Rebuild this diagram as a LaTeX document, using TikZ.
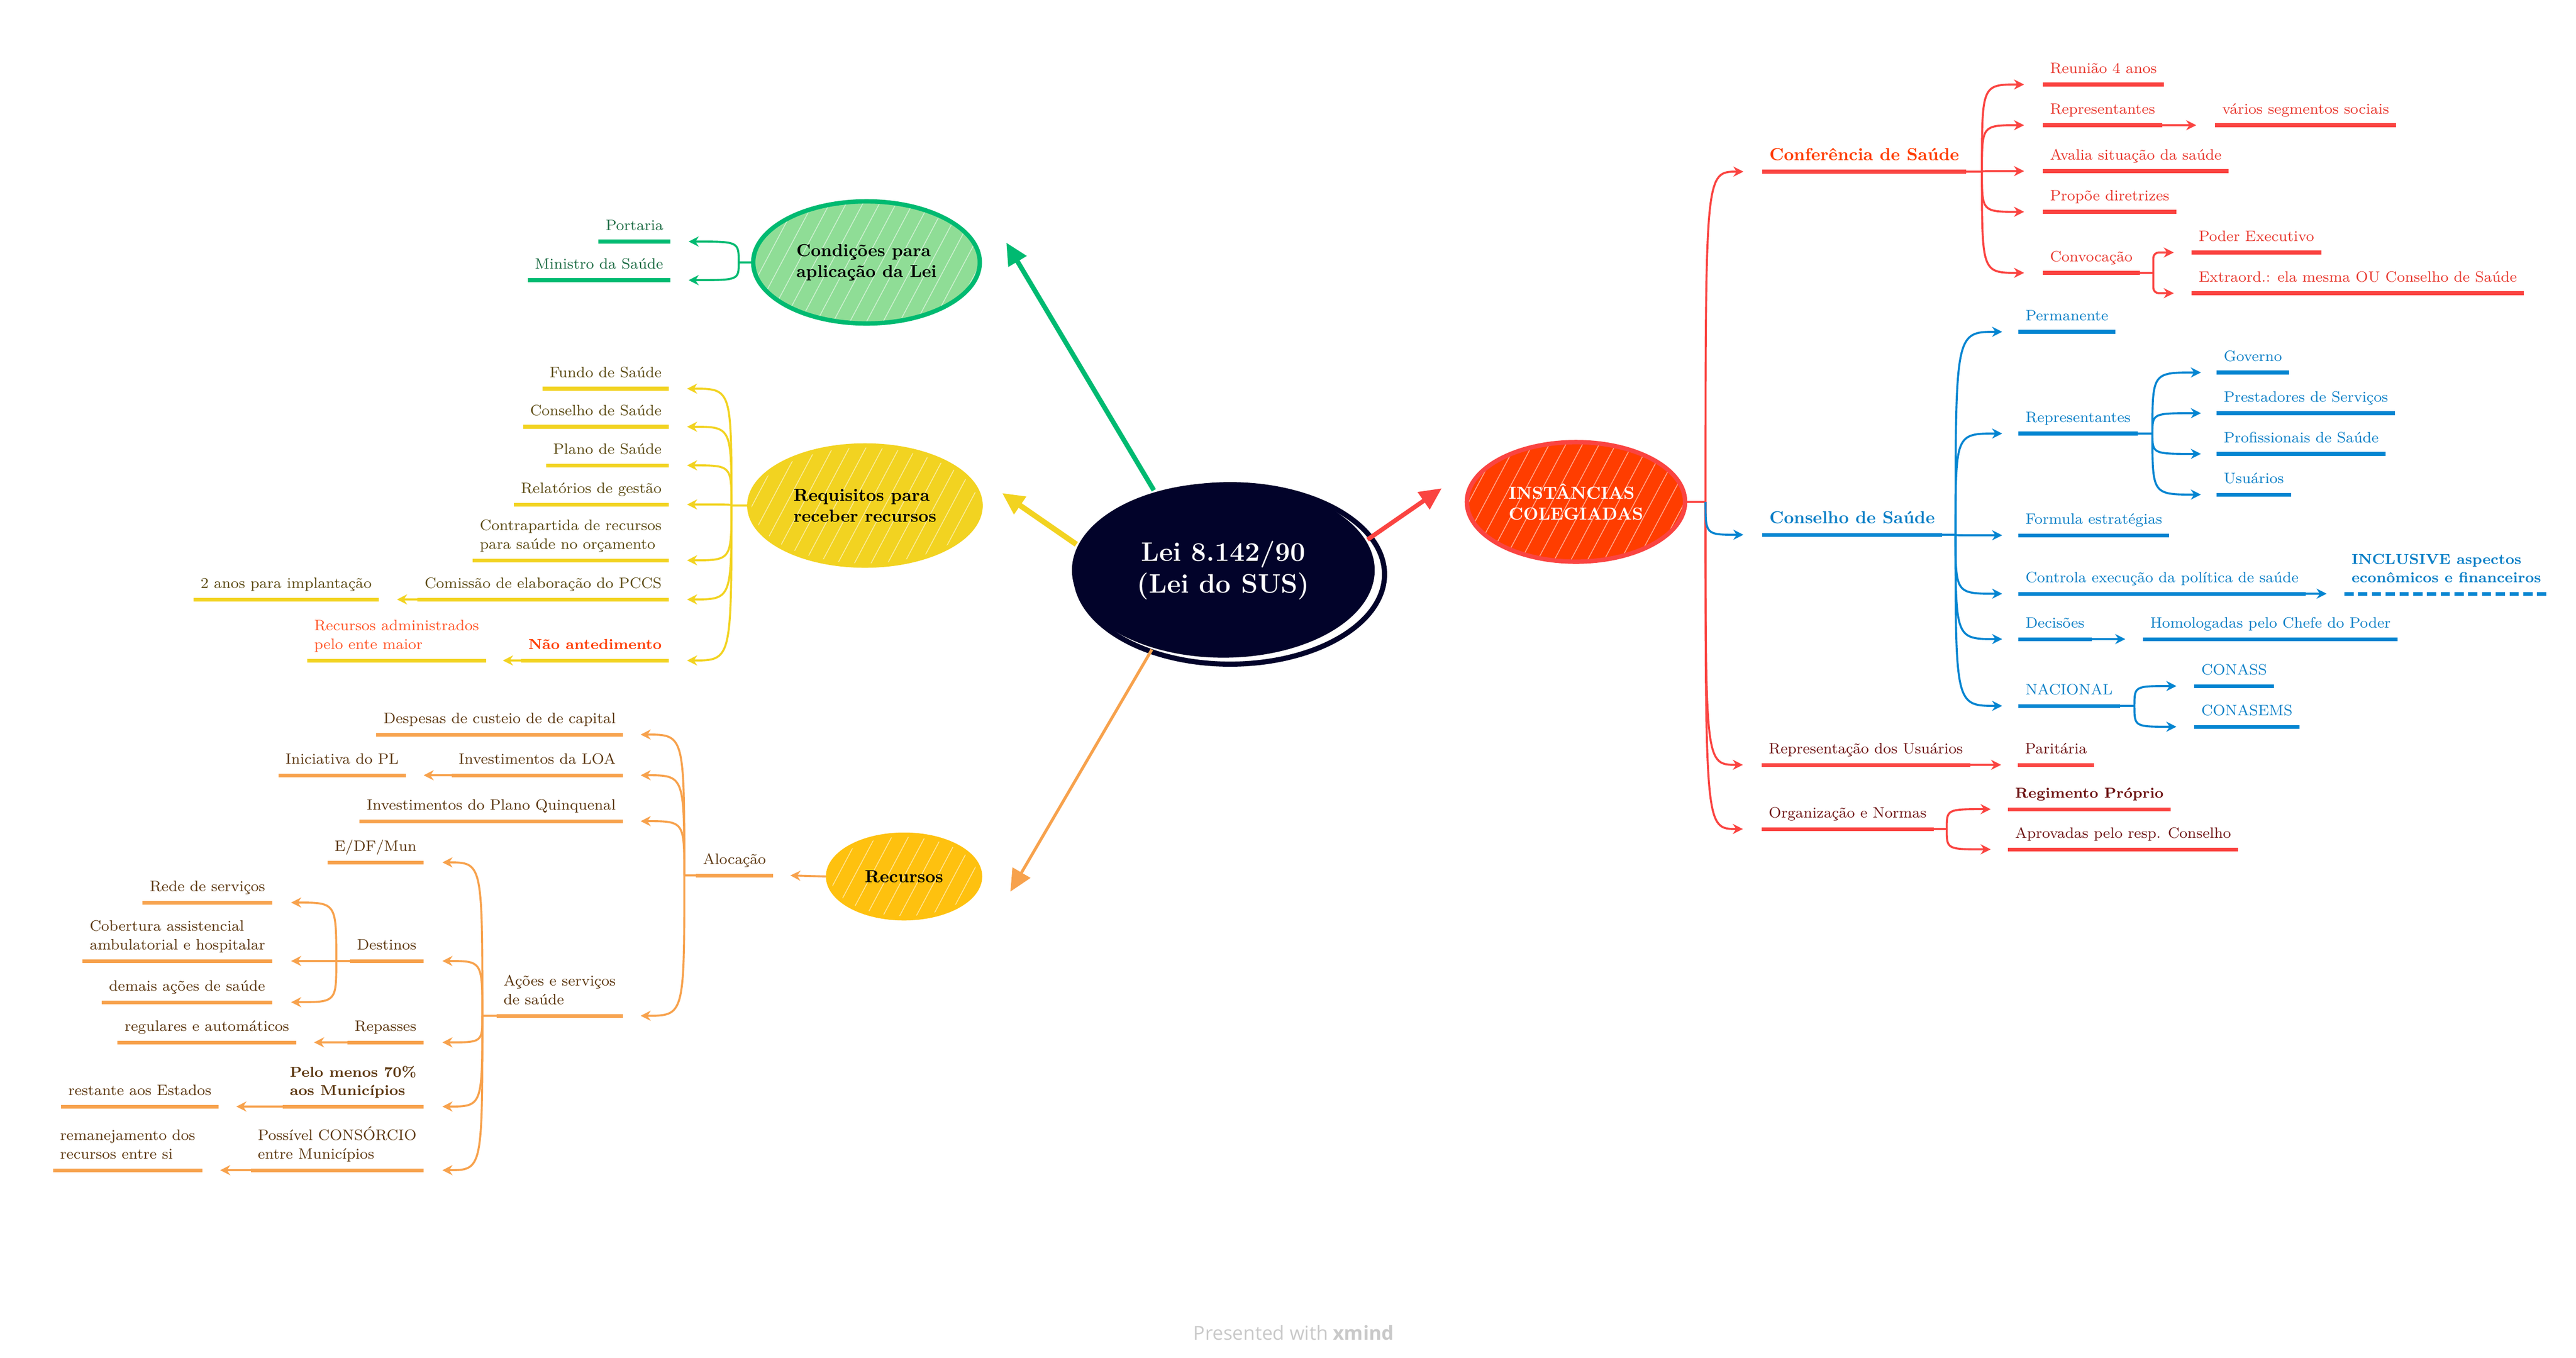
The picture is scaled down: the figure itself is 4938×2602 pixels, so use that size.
\documentclass[tikz,border=0pt]{standalone}
\usepackage{fontspec}
\newfontfamily\wmfont{Open Sans}
\usetikzlibrary{shapes.geometric,arrows.meta,patterns.meta,positioning}
\definecolor{navy}{HTML}{02032A}
\definecolor{rdline}{HTML}{FA4441}
\definecolor{rdtext}{HTML}{E8382E}
\definecolor{rdfill}{HTML}{FF3D00}
\definecolor{rdhead}{HTML}{FF3D00}
\definecolor{mrline}{HTML}{FA4441}
\definecolor{mrtext}{HTML}{6E1414}
\definecolor{blline}{HTML}{0385D1}
\definecolor{bltext}{HTML}{0A7FC6}
\definecolor{grnline}{HTML}{00BA71}
\definecolor{grnfill}{HTML}{8FDD96}
\definecolor{grntext}{HTML}{1B6B43}
\definecolor{ylwline}{HTML}{F2D321}
\definecolor{ylwfill}{HTML}{F2D321}
\definecolor{ylwtext}{HTML}{5B4A12}
\definecolor{orgline}{HTML}{F7A24D}
\definecolor{orgfill}{HTML}{FEC10F}
\definecolor{orgtext}{HTML}{5B360E}
\definecolor{naotext}{HTML}{FF3D00}
\definecolor{admtext}{HTML}{FF5527}
\definecolor{wmgray}{HTML}{C9C9C9}
\tikzset{
  mainnode/.style={ellipse, line width=2.4pt, inner sep=0pt, align=left, font=\fontsize{9.5}{11.5}\selectfont\bfseries},
  hatch/.style={preaction={fill=#1}, pattern={Lines[angle=62,distance=8pt,line width=0.45pt]}, pattern color=white!55!#1},
  topic/.style={inner xsep=0.13cm, inner ysep=0.12cm, text depth=0.25em, align=left, font=\fontsize{8.2}{10.2}\selectfont, text=#1text,
    append after command={(\tikzlastnode.south west) edge[line width=2pt, draw=#1line] (\tikzlastnode.south east)}},
  dashtopic/.style={inner xsep=0.13cm, inner ysep=0.12cm, text depth=0.25em, align=left, font=\fontsize{7.9}{9.9}\selectfont\bfseries, text=#1text,
    append after command={(\tikzlastnode.south west) edge[line width=2pt, dash pattern=on 5pt off 2.5pt, draw=#1line] (\tikzlastnode.south east)}},
  headtopic/.style={font=\fontsize{9.5}{11.5}\selectfont\bfseries},
  boldtopic/.style={font=\fontsize{7.9}{9.9}\selectfont\bfseries},
  link/.style={line width=1.1pt, -{Stealth[length=5.5pt,width=5.5pt]}},
  mainarrow/.style={-{Triangle[length=12pt,width=11pt]}}
}
\begin{document}
\begin{tikzpicture}[x=0.01cm, y=-0.01cm]
\useasboundingbox (0,0) rectangle (4938,2602);
\node[mainnode, fill=navy, text=white, align=center, minimum width=5.8cm, minimum height=3.35cm, font=\fontsize{14.6}{17.5}\selectfont\bfseries] (lei) at (2345,1093) {Lei 8.142/90\\(Lei do SUS)};
\draw[navy, line width=2.8pt] (2358,1101) ellipse [x radius=296, y radius=172];
\node[mainnode, hatch=grnfill, draw=grnline, minimum width=4.34cm, minimum height=2.34cm] (cond) at (1661,503) {Condições para\\aplicação da Lei};
\node[mainnode, hatch=ylwfill, draw=ylwline, minimum width=4.43cm, minimum height=2.3cm] (requis) at (1658,969) {Requisitos para\\receber recursos};
\node[mainnode, hatch=orgfill, draw=orgfill, minimum width=2.91cm, minimum height=1.6cm] (recursos) at (1733,1680) {Recursos};
\node[mainnode, hatch=rdfill, draw=rdline, text=white, minimum width=4.18cm, minimum height=2.29cm] (inst) at (3021,962) {INSTÂNCIAS\\COLEGIADAS};
\draw[mainarrow, grnline, line width=2.6pt] (lei.131) -- ([shift={(0.5cm,0.38cm)}]cond.east);
\draw[mainarrow, ylwline, line width=3pt] (lei.170) -- ([shift={(0.37cm,0.24cm)}]requis.east);
\draw[mainarrow, rdline, line width=2.4pt] (lei.12) -- ([shift={(-0.44cm,0.26cm)}]inst.west);
\draw[mainarrow, orgline, line width=1.6pt] (lei.228) -- ([shift={(0.54cm,-0.29cm)}]recursos.east);

\node[topic=grn, anchor=south east] (portaria) at (1285,463) {Portaria};
\node[topic=grn, anchor=south east] (ministro) at (1285,537) {Ministro da Saúde};
\coordinate (fCond) at ([xshift=-0.27cm]cond.west);
\draw[grnline, line width=1.1pt] (cond.west) -- (fCond);
\foreach \c in {portaria,ministro}
\draw[link, grnline] (fCond) .. controls (fCond |- \c.south east) .. ([xshift=0.35cm]\c.south east);

\node[topic=ylw, anchor=south east] (fundo) at (1282,745) {Fundo de Saúde};
\node[topic=ylw, anchor=south east] (conssaude) at (1282,818) {Conselho de Saúde};
\node[topic=ylw, anchor=south east] (plano) at (1282,892) {Plano de Saúde};
\node[topic=ylw, anchor=south east] (relat) at (1282,967) {Relatórios de gestão};
\node[topic=ylw, anchor=south east] (contrap) at (1282,1074) {Contrapartida de recursos\\para saúde no orçamento};
\node[topic=ylw, anchor=south east] (comissao) at (1282,1149) {Comissão de elaboração do PCCS};
\node[topic=ylw, anchor=south east] (doisanos) at (726,1149) {2 anos para implantação};
\node[topic=ylw, boldtopic, anchor=south east, text=naotext] (naoat) at (1282,1266) {Não antedimento};
\node[topic=ylw, anchor=south east, text=admtext] (recadm) at (932,1266) {Recursos administrados\\pelo ente maior};
\coordinate (fRequis) at ([xshift=-0.3cm]requis.west);
\draw[ylwline, line width=1.1pt] (requis.west) -- (fRequis);
\foreach \c in {fundo,conssaude,plano,relat,contrap,comissao,naoat}
\draw[link, ylwline] (fRequis) .. controls (fRequis |- \c.south east) .. ([xshift=0.35cm]\c.south east);
\draw[link, ylwline] (comissao.south west) -- ([xshift=0.35cm]doisanos.south east);
\draw[link, ylwline] (naoat.south west) -- ([xshift=0.32cm]recadm.south east);

\node[topic=org, anchor=south east] (alocacao) at (1482,1678) {Alocação};
\node[topic=org, anchor=south east] (despesas) at (1194,1408) {Despesas de custeio de de capital};
\node[topic=org, anchor=south east] (invloa) at (1194,1486) {Investimentos da LOA};
\node[topic=org, anchor=south east] (inicpl) at (778,1486) {Iniciativa do PL};
\node[topic=org, anchor=south east] (invplano) at (1194,1574) {Investimentos do Plano Quinquenal};
\node[topic=org, anchor=south east] (acoes) at (1194,1947) {Ações e serviços\\de saúde};
\node[topic=org, anchor=south east] (edf) at (812,1653) {E/DF/Mun};
\node[topic=org, anchor=south east] (destinos) at (812,1842) {Destinos};
\node[topic=org, anchor=south east] (rede) at (522,1730) {Rede de serviços};
\node[topic=org, anchor=south east] (cobert) at (522,1842) {Cobertura assistencial\\ambulatorial e hospitalar};
\node[topic=org, anchor=south east] (demais) at (522,1921) {demais ações de saúde};
\node[topic=org, anchor=south east] (repasses) at (812,1998) {Repasses};
\node[topic=org, anchor=south east] (regul) at (568,1998) {regulares e automáticos};
\node[topic=org, boldtopic, anchor=south east] (pelomenos) at (812,2121) {Pelo menos 70\%\\aos Municípios};
\node[topic=org, anchor=south east] (restante) at (419,2121) {restante aos Estados};
\node[topic=org, anchor=south east] (possivel) at (812,2243) {Possível CONSÓRCIO\\entre Municípios};
\node[topic=org, anchor=south east] (remanej) at (388,2243) {remanejamento dos\\recursos entre si};
\draw[link, orgline] (recursos.west) -- ([xshift=0.33cm]alocacao.south east);
\coordinate (fAloc) at ([xshift=-0.22cm]alocacao.south west);
\draw[orgline, line width=1.1pt] (alocacao.south west) -- (fAloc);
\foreach \c in {despesas,invloa,invplano,acoes}
\draw[link, orgline] (fAloc) .. controls (fAloc |- \c.south east) .. ([xshift=0.34cm]\c.south east);
\draw[link, orgline] (invloa.south west) -- ([xshift=0.34cm]inicpl.south east);
\coordinate (fAcoes) at ([xshift=-0.27cm]acoes.south west);
\draw[orgline, line width=1.1pt] (acoes.south west) -- (fAcoes);
\foreach \c in {edf,destinos,repasses,pelomenos,possivel}
\draw[link, orgline] (fAcoes) .. controls (fAcoes |- \c.south east) .. ([xshift=0.36cm]\c.south east);
\coordinate (fDest) at ([xshift=-0.26cm]destinos.south west);
\draw[orgline, line width=1.1pt] (destinos.south west) -- (fDest);
\foreach \c in {rede,cobert,demais}
\draw[link, orgline] (fDest) .. controls (fDest |- \c.south east) .. ([xshift=0.36cm]\c.south east);
\draw[link, orgline] (repasses.south west) -- ([xshift=0.34cm]regul.south east);
\draw[link, orgline] (pelomenos.south west) -- ([xshift=0.34cm]restante.south east);
\draw[link, orgline] (possivel.south west) -- ([xshift=0.34cm]remanej.south east);

\node[topic=rd, headtopic, text=rdhead, anchor=south west] (conf) at (3378,329) {Conferência de Saúde};
\node[topic=rd, anchor=south west] (reuniao) at (3916,162) {Reunião 4 anos};
\node[topic=rd, anchor=south west] (reprconf) at (3916,240) {Representantes};
\node[topic=rd, anchor=south west] (varios) at (4246,240) {vários segmentos sociais};
\node[topic=rd, anchor=south west] (avalia) at (3916,328) {Avalia situação da saúde};
\node[topic=rd, anchor=south west] (propoe) at (3916,406) {Propõe diretrizes};
\node[topic=rd, anchor=south west] (convoc) at (3916,523) {Convocação};
\node[topic=rd, anchor=south west] (poder) at (4201,484) {Poder Executivo};
\node[topic=rd, anchor=south west] (extra) at (4201,562) {Extraord.: ela mesma OU Conselho de Saúde};
\node[topic=bl, headtopic, anchor=south west] (consel) at (3378,1025) {Conselho de Saúde};
\node[topic=bl, anchor=south west] (perm) at (3869,636) {Permanente};
\node[topic=bl, anchor=south west] (reprcs) at (3869,831) {Representantes};
\node[topic=bl, anchor=south west] (governo) at (4249,714) {Governo};
\node[topic=bl, anchor=south west] (prest) at (4249,792) {Prestadores de Serviços};
\node[topic=bl, anchor=south west] (profis) at (4249,870) {Profissionais de Saúde};
\node[topic=bl, anchor=south west] (usuar) at (4249,948) {Usuários};
\node[topic=bl, anchor=south west] (formula) at (3869,1026) {Formula estratégias};
\node[topic=bl, anchor=south west] (controla) at (3869,1138) {Controla execução da política de saúde};
\node[dashtopic=bl, anchor=south west] (inclus) at (4494,1138) {INCLUSIVE aspectos\\econômicos e financeiros};
\node[topic=bl, anchor=south west] (decis) at (3869,1225) {Decisões};
\node[topic=bl, anchor=south west] (homol) at (4108,1225) {Homologadas pelo Chefe do Poder};
\node[topic=bl, anchor=south west] (nacional) at (3869,1353) {NACIONAL};
\node[topic=bl, anchor=south west] (conass) at (4206,1315) {CONASS};
\node[topic=bl, anchor=south west] (conasems) at (4206,1393) {CONASEMS};
\node[topic=mr, anchor=south west] (reprus) at (3377,1466) {Representação dos Usuários};
\node[topic=mr, anchor=south west] (parit) at (3868,1466) {Paritária};
\node[topic=mr, anchor=south west] (organ) at (3377,1589) {Organização e Normas};
\node[topic=mr, boldtopic, anchor=south west] (regim) at (3849,1551) {Regimento Próprio};
\node[topic=mr, anchor=south west] (aprov) at (3849,1628) {Aprovadas pelo resp. Conselho};
\coordinate (fInst) at ([xshift=0.35cm]inst.east);
\draw[rdline, line width=1.1pt] (inst.east) -- (fInst);
\foreach \c in {conf,reprus,organ}
\draw[link, rdline] (fInst) .. controls (fInst |- \c.south west) .. ([xshift=-0.36cm]\c.south west);
\draw[link, blline] (fInst) .. controls (fInst |- consel.south west) .. ([xshift=-0.36cm]consel.south west);
\coordinate (fConf) at ([xshift=0.3cm]conf.south east);
\draw[rdline, line width=1.1pt] (conf.south east) -- (fConf);
\foreach \c in {reuniao,reprconf,avalia,propoe,convoc}
\draw[link, rdline] (fConf) .. controls (fConf |- \c.south west) .. ([xshift=-0.36cm]\c.south west);
\draw[link, rdline] (reprconf.south east) -- ([xshift=-0.36cm]varios.south west);
\coordinate (fConv) at ([xshift=0.26cm]convoc.south east);
\draw[rdline, line width=1.1pt] (convoc.south east) -- (fConv);
\foreach \c in {poder,extra}
\draw[link, rdline, rounded corners=3pt] (fConv) |- ([xshift=-0.34cm]\c.south west);
\coordinate (fConsel) at ([xshift=0.26cm]consel.south east);
\draw[blline, line width=1.1pt] (consel.south east) -- (fConsel);
\foreach \c in {perm,reprcs,formula,controla,decis,nacional}
\draw[link, blline] (fConsel) .. controls (fConsel |- \c.south west) .. ([xshift=-0.31cm]\c.south west);
\coordinate (fReprcs) at ([xshift=0.28cm]reprcs.south east);
\draw[blline, line width=1.1pt] (reprcs.south east) -- (fReprcs);
\foreach \c in {governo,prest,profis,usuar}
\draw[link, blline] (fReprcs) .. controls (fReprcs |- \c.south west) .. ([xshift=-0.3cm]\c.south west);
\draw[link, blline] (controla.south east) -- ([xshift=-0.34cm]inclus.south west);
\draw[link, blline] (decis.south east) -- ([xshift=-0.34cm]homol.south west);
\coordinate (fNac) at ([xshift=0.28cm]nacional.south east);
\draw[blline, line width=1.1pt] (nacional.south east) -- (fNac);
\foreach \c in {conass,conasems}
\draw[link, blline] (fNac) .. controls (fNac |- \c.south west) .. ([xshift=-0.34cm]\c.south west);
\draw[link, mrline] (reprus.south east) -- ([xshift=-0.32cm]parit.south west);
\coordinate (fOrgan) at ([xshift=0.25cm]organ.south east);
\draw[mrline, line width=1.1pt] (organ.south east) -- (fOrgan);
\foreach \c in {regim,aprov}
\draw[link, mrline] (fOrgan) .. controls (fOrgan |- \c.south west) .. ([xshift=-0.33cm]\c.south west);

\node[font=\wmfont\fontsize{10.5}{12}\selectfont, text=wmgray] (brand) at (2480,2555) {Presented with \textbf{xmind}};

\end{tikzpicture}
\end{document}
